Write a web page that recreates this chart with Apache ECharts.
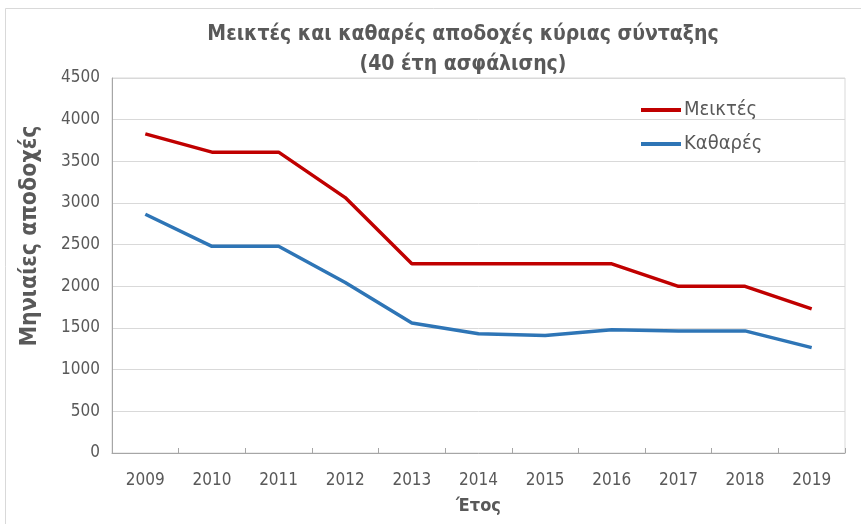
<!DOCTYPE html>
<html><head><meta charset="utf-8">
<script src="https://cdn.jsdelivr.net/npm/echarts@6/dist/echarts.min.js"></script>
<style>html,body{margin:0;padding:0;background:#fff}#c{width:861px;height:524px}</style>
</head><body><div id="c"></div>
<script>
const years = ['2009','2010','2011','2012','2013','2014','2015','2016','2017','2018','2019'];
const gross = [3830, 3610, 3610, 3065, 2270, 2270, 2270, 2270, 2000, 2000, 1730];
const net = [2865, 2480, 2480, 2045, 1560, 1430, 1410, 1480, 1465, 1465, 1265];
const yTicks = [0, 500, 1000, 1500, 2000, 2500, 3000, 3500, 4000, 4500];
const seriesNames = ['Μεικτές', 'Καθαρές'];
const FONT = "'DejaVu Sans Condensed',sans-serif";
const chart = echarts.init(document.getElementById('c'), null, {renderer:'canvas'});
chart.setOption({
  animation:false,
  backgroundColor:'#fff',
  graphic:[
    {type:'rect', shape:{x:5.5,y:8.5,width:900,height:600}, style:{fill:'none', stroke:'#d9d9d9', lineWidth:1}},
    {type:'text', x:30, y:236, rotation:Math.PI/2, style:{text:'Μηνιαίες αποδοχές', fill:'#595959', font:"bold 23px 'DejaVu Sans Condensed',sans-serif", align:'center', verticalAlign:'middle'}}
  ],
  title:{
    text:'Μεικτές και καθαρές αποδοχές κύριας σύνταξης\n(40 έτη ασφάλισης)',
    left:458, textAlign:'center', top:15,
    textStyle:{fontFamily:FONT, fontSize:21, fontWeight:'bold', color:'#595959', lineHeight:30, align:'center'}
  },
  legend:{
    orient:'vertical', left:641, top:100, itemGap:14, padding:0,
    itemWidth:40, itemHeight:4, icon:'rect',
    textStyle:{fontFamily:FONT, fontSize:20, color:'#595959', padding:[0,0,0,-2]},
    data:seriesNames
  },
  grid:{left:112, right:16, top:78, bottom:71, show:true, borderColor:'#d9d9d9', borderWidth:1},
  xAxis:{
    type:'category', data:years, boundaryGap:true,
    name:'Έτος', nameLocation:'middle', nameGap:44,
    nameTextStyle:{fontFamily:FONT, fontSize:18, fontWeight:'bold', color:'#595959'},
    axisLine:{lineStyle:{color:'#a6a6a6', width:1}},
    axisTick:{show:true, inside:true, length:5, alignWithLabel:false, lineStyle:{color:'#a6a6a6'}},
    axisLabel:{fontFamily:FONT, fontSize:17, color:'#595959', margin:19}
  },
  yAxis:{
    type:'value', min:yTicks[0], max:yTicks[yTicks.length-1], interval:500,
    axisLine:{show:true, lineStyle:{color:'#a6a6a6', width:1}},
    axisTick:{show:false},
    splitLine:{lineStyle:{color:'#d9d9d9', width:1}},
    axisLabel:{fontFamily:FONT, fontSize:17, color:'#595959', margin:12, formatter:function(v){return String(v);}}
  },
  series:[
    {name:seriesNames[0], type:'line', data:gross, symbol:'none', lineStyle:{color:'#c00000', width:3.5}, itemStyle:{color:'#c00000'}},
    {name:seriesNames[1], type:'line', data:net, symbol:'none', lineStyle:{color:'#2e75b6', width:3.5}, itemStyle:{color:'#2e75b6'}}
  ]
});
</script></body></html>
